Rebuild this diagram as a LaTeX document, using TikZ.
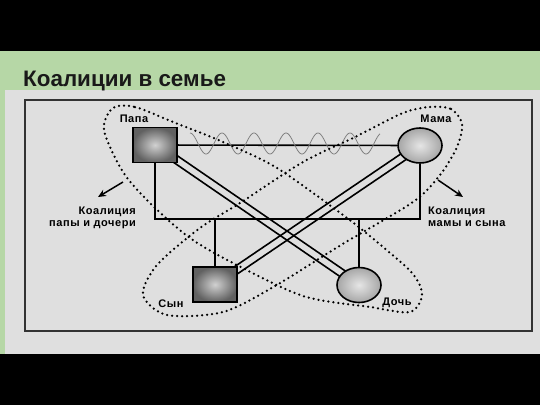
\documentclass[tikz,border=0pt]{standalone}
\usepackage{fontspec}
\setmainfont{Liberation Sans}
\newfontfamily\scanfont[LetterSpace=5]{Liberation Sans}
\usetikzlibrary{arrows.meta,calc,shapes.geometric}
\pgfdeclarelayer{background}
\pgfsetlayers{background,main}
\definecolor{slidegreen}{RGB}{182,215,166}
\definecolor{scangray}{RGB}{223,223,223}

\begin{document}
\begin{tikzpicture}[x=1pt,y=-1pt,
	male/.style={draw,line width=1.6pt,minimum width=44pt,minimum height=35pt,inner sep=0pt,
		shading=radial,inner color=black!18,outer color=black!62},
	female/.style={draw,ellipse,line width=1.6pt,minimum width=44pt,minimum height=35pt,inner sep=0pt,
		shading=radial,inner color=black!10,outer color=black!35},
	member/.style={font=\scanfont\fontsize{11}{12}\selectfont\bfseries,inner sep=0pt},
	coal/.style={font=\scanfont\fontsize{11}{11.5}\selectfont\bfseries,inner sep=0pt},
	coalition/.style={line width=2.5pt,dash pattern=on 0pt off 5pt,line cap=round},
	band/.style={line width=1.6pt},
	wave/.style={black!50,line width=0.8pt},
	arr/.style={-{Stealth[length=8pt,width=7pt]},line width=1.5pt}]
	\useasboundingbox (0,0) rectangle (540,405);

	% family members
	\node[male] (papa) at (155,145) {};
	\node[female] (mama) at (420,145.5) {};
	\node[male] (syn) at (215,284.5) {};
	\node[female] (doch) at (359,285) {};
	\node[member] (papalbl) at (134,119) {Папа};
	\node[member] (mamalbl) at (436,119) {Мама};
	\node[member] (synlbl) at (171,304) {Сын};
	\node[member] (dochlbl) at (397,303) {Дочь};

	\begin{pgfonlayer}{background}
		\fill[black] (0,0) rectangle (540,405);
		\fill[slidegreen] (0,51) rectangle (540,354);
		\fill[scangray] (5,90) rectangle (540,354);
		\draw[line width=1.2pt,black!80] (25,100) rectangle (532,331);
		% double bands
		\foreach \s/\t in {90/-90,-90/90} {
			\draw[band] ($(papa.center)!3.8pt!\s:(doch.center)$) -- ($(doch.center)!3.8pt!\t:(papa.center)$);
			\draw[band] ($(mama.center)!3.8pt!\s:(syn.center)$) -- ($(syn.center)!3.8pt!\t:(mama.center)$);
		}
		% family lines
		\coordinate (base) at (0,219);
		\draw[band] (papa) -- (mama);
		\draw[band] (papa.south) |- (base -| mama.south) -- (mama.south);
		\draw[band] (syn.north) -- (syn.north |- base);
		\draw[band] (doch.north) -- (doch.north |- base);
	\end{pgfonlayer}

	% conflict
	\draw[wave] plot[domain=190:380,samples=160] (\x,{143.5-10.5*cos(11.25*(\x-222))});

	% coalitions
	\draw[coalition] plot[smooth cycle] coordinates {(113,108) (135,107) (173,122) (223,142) (277,168)
		(347,218) (383,247) (413,274) (422,295) (410,312) (370,307) (303,296) (233,263) (190,238)
		(152,205) (123,172) (104,130)};
	\draw[coalition] plot[smooth cycle] coordinates {(430,107) (451,109) (462,124) (457,147) (440,175)
		(413,202) (341,245) (275,286) (223,312) (167,315) (143,295) (157,265) (200,228) (240,203)
		(303,162) (353,138) (403,113)};

	\coordinate (la0) at (123,182);
	\coordinate (la1) at (98,197);
	\coordinate (ra0) at (438,180);
	\coordinate (ra1) at (463,197);
	\draw[arr] (la0) -- (la1);
	\draw[arr] (ra0) -- (ra1);
	\node[coal,anchor=north east,align=right] (lcoal) at (136,207) {Коалиция\\папы и дочери};
	\node[coal,anchor=north west,align=left] (rcoal) at (428,207) {Коалиция\\мамы и сына};

	\node[anchor=base west,inner sep=0pt,font=\fontsize{22.4}{26}\selectfont\bfseries,text=black!90] (title) at (23,86) {Коалиции в семье};
\end{tikzpicture}
\end{document}
